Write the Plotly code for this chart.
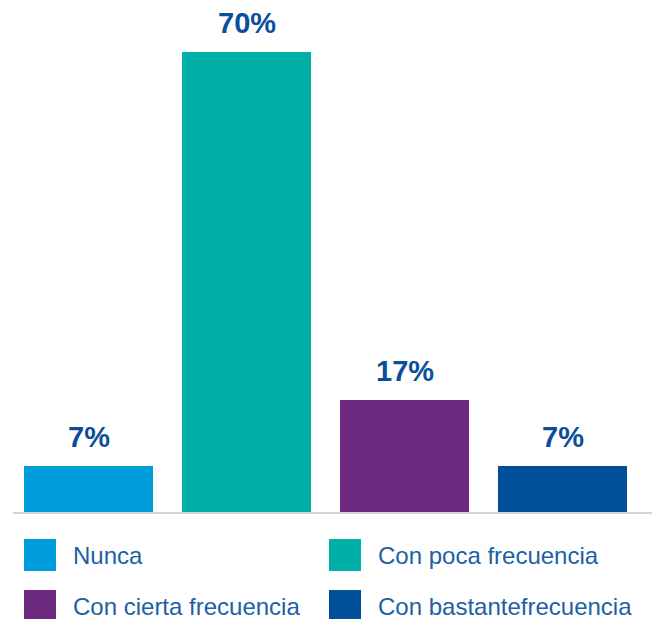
import plotly.graph_objects as go

categories = ["Nunca", "Con poca frecuencia", "Con cierta frecuencia", "Con bastantefrecuencia"]
values = [7, 70, 17, 7]
labels = ["7%", "70%", "17%", "7%"]
colors = ["#009ddc", "#00afa7", "#6d2880", "#00509a"]

fig = go.Figure()
fig.add_trace(go.Bar(
    x=categories, y=values, marker=dict(color=colors, line=dict(width=0)),
    width=0.816, showlegend=False, hoverinfo="skip",
))

for c, v, t in zip(categories, values, labels):
    fig.add_annotation(x=c, y=v, text="<b>" + t + "</b>", showarrow=False, yanchor="bottom",
                       yshift=11, font=dict(family="Liberation Sans", size=29, color="#0b4f9a"),
                       xref="x", yref="y")

# manual legend
W, H = 652, 619
ml, mr, mt, mb = 13, 0, 19, 107
pw, ph = W - ml - mr, H - mt - mb
def px(x):
    return (x - ml) / pw
def py(y):
    return (H - mb - y) / ph

legend_pos = [(24, 539), (329, 539), (24, 590), (329, 590)]
for (lx, ly), c, name in zip(legend_pos, colors, categories):
    fig.add_shape(type="rect", xref="paper", yref="paper",
                  x0=px(lx), x1=px(lx + 32), y0=py(ly + 32), y1=py(ly),
                  fillcolor=c, line=dict(width=0))
    fig.add_annotation(xref="paper", yref="paper", x=px(lx + 47), y=py(ly + 16),
                       text=name, showarrow=False, xanchor="left", yanchor="middle",
                       font=dict(family="Liberation Sans", size=24, color="#2160a5"))

fig.update_layout(
    width=W, height=H,
    margin=dict(l=ml, r=mr, t=mt, b=mb),
    plot_bgcolor="white", paper_bgcolor="white",
    xaxis=dict(range=[-0.478, 3.566], showticklabels=False, ticks="", showgrid=False,
               showline=True, linecolor="#d3d5d7", linewidth=2, zeroline=False, fixedrange=True),
    yaxis=dict(range=[0, 75], visible=False, showgrid=False, zeroline=False, fixedrange=True),
    bargap=0,
)

fig.write_html("out.html", config={"displayModeBar": False},
               post_script="document.body.style.margin='0';document.body.style.overflow='hidden';")
